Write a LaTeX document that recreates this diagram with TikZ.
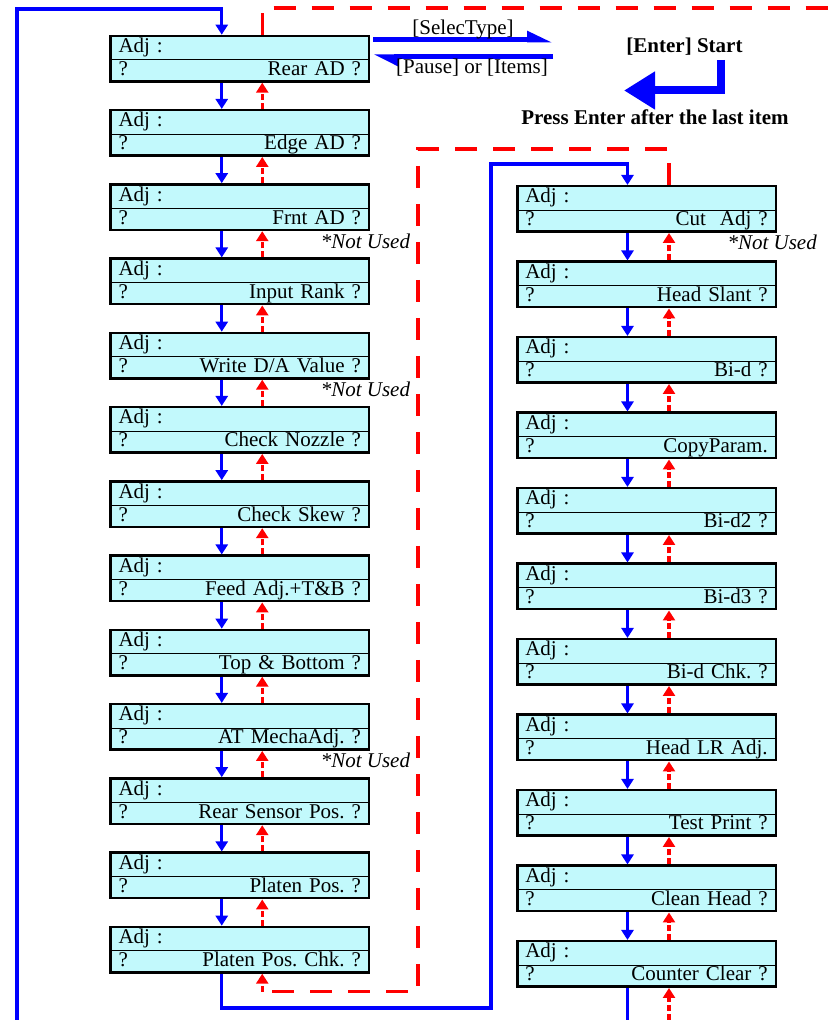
\documentclass[tikz,border=0pt]{standalone}
\usepackage{fontspec}
\setmainfont{Liberation Serif}
\usepackage{tikz}
\usetikzlibrary{arrows.meta,positioning,calc}
\frenchspacing
\definecolor{Lcd}{HTML}{C2F9FC}
\definecolor{Fwd}{HTML}{0000FF}
\definecolor{Back}{HTML}{FF0000}
\newcommand{\adjq}[1]{?\hfill #1\hspace*{4pt}}
\tikzset{
  adjbox/.style={draw=black,fill=Lcd,line width=2.5pt,minimum width=258.5pt,minimum height=45.5pt,text width=242.5pt,inner xsep=8pt,inner ysep=1.75pt,align=left,text height=15pt,text depth=27pt,font=\fontsize{21}{23}\selectfont,
    path picture={\draw[black,line width=1pt] ([yshift=-1.3pt]path picture bounding box.west) -- ([yshift=-1.3pt]path picture bounding box.east);}},
  fwd/.style={-{Triangle[length=10pt,width=12pt]},draw=Fwd,line width=3.2pt},
  back/.style={-{Triangle[length=10pt,width=12pt]},draw=Back,line width=3.2pt,dash pattern=on 6pt off 3pt},
  fwdloop/.style={draw=Fwd,line width=3.2pt},
  backloop/.style={draw=Back,line width=3.2pt,dash pattern=on 22pt off 16pt},
  keyflow/.style={draw=Fwd,line width=5pt},
  keytext/.style={font=\fontsize{21}{23}\selectfont,inner sep=0pt},
  hint/.style={font=\fontsize{21}{23}\selectfont\bfseries,inner sep=0pt},
  note/.style={font=\fontsize{21}{23}\selectfont\itshape,inner sep=0pt}
}
\begin{document}
\begin{tikzpicture}[x=1pt,y=1pt,node distance=26.25pt]
      \useasboundingbox (0,0) rectangle (838,1020);
      \node[adjbox] (L1) at (239.75,961.3) {Adj :\\\adjq{Rear AD ?}};
      \node[adjbox,below=of L1] (L2) {Adj :\\\adjq{Edge AD ?}};
      \node[adjbox,below=of L2] (L3) {Adj :\\\adjq{Frnt AD ?}};
      \node[adjbox,below=of L3] (L4) {Adj :\\\adjq{Input Rank ?}};
      \node[adjbox,below=of L4] (L5) {Adj :\\\adjq{Write D/A Value ?}};
      \node[adjbox,below=of L5] (L6) {Adj :\\\adjq{Check Nozzle ?}};
      \node[adjbox,below=of L6] (L7) {Adj :\\\adjq{Check Skew ?}};
      \node[adjbox,below=of L7] (L8) {Adj :\\\adjq{Feed Adj.+T\&B ?}};
      \node[adjbox,below=of L8] (L9) {Adj :\\\adjq{Top \& Bottom ?}};
      \node[adjbox,below=of L9] (L10) {Adj :\\\adjq{AT MechaAdj. ?}};
      \node[adjbox,below=of L10] (L11) {Adj :\\\adjq{Rear Sensor Pos. ?}};
      \node[adjbox,below=of L11] (L12) {Adj :\\\adjq{Platen Pos. ?}};
      \node[adjbox,below=of L12] (L13) {Adj :\\\adjq{Platen Pos. Chk. ?}};
      \node[adjbox] (R1) at (646.5,811) {Adj :\\\adjq{Cut~ Adj ?}};
      \node[adjbox,below=27.5pt of R1] (R2) {Adj :\\\adjq{Head Slant ?}};
      \node[adjbox,below=27.5pt of R2] (R3) {Adj :\\\adjq{Bi-d ?}};
      \node[adjbox,below=27.5pt of R3] (R4) {Adj :\\\adjq{CopyParam.}};
      \node[adjbox,below=27.5pt of R4] (R5) {Adj :\\\adjq{Bi-d2 ?}};
      \node[adjbox,below=27.5pt of R5] (R6) {Adj :\\\adjq{Bi-d3 ?}};
      \node[adjbox,below=27.5pt of R6] (R7) {Adj :\\\adjq{Bi-d Chk. ?}};
      \node[adjbox,below=27.5pt of R7] (R8) {Adj :\\\adjq{Head LR Adj.}};
      \node[adjbox,below=27.5pt of R8] (R9) {Adj :\\\adjq{Test Print ?}};
      \node[adjbox,below=27.5pt of R9] (R10) {Adj :\\\adjq{Clean Head ?}};
      \node[adjbox,below=27.5pt of R10] (R11) {Adj :\\\adjq{Counter Clear ?}};
      \foreach \i [count=\j from 2] in {1,...,12}{
        \draw[fwd] ([xshift=-18pt]L\i.south) -- ([xshift=-18pt]L\j.north);
        \draw[back] ([xshift=22.5pt]L\j.north) -- ([xshift=22.5pt]L\i.south);
      }
      \foreach \i [count=\j from 2] in {1,...,10}{
        \draw[fwd] ([xshift=-19pt]R\i.south) -- ([xshift=-19pt]R\j.north);
        \draw[back] ([xshift=22.5pt]R\j.north) -- ([xshift=22.5pt]R\i.south);
      }
      \node[note,anchor=base east] (nu3) at ([shift={(40pt,-17pt)}]L3.south east) {*Not Used};
      \node[note,anchor=base east] (nu5) at ([shift={(40pt,-17pt)}]L5.south east) {*Not Used};
      \node[note,anchor=base east] (nu10) at ([shift={(40pt,-17pt)}]L10.south east) {*Not Used};
      \node[note,anchor=base east] (nuR1) at ([shift={(40pt,-17pt)}]R1.south east) {*Not Used};
      \coordinate (fwdin) at (17,0);
      \coordinate (backout) at (838,1012);
      \coordinate (fwdmid) at (491,12);
      \coordinate (backmid) at (418,871);
      \coordinate (backcorner) at (262.25,28.3);
      \coordinate (fwdout) at (627.5,0);
      \coordinate (backin) at (669,0);
      \draw[fwdloop,-{Triangle[length=10pt,width=12pt]}] (fwdin) |- ([shift={(-18pt,25.7pt)}]L1.north) -- ([xshift=-18pt]L1.north);
      \draw[backloop] ([xshift=22.5pt]L1.north) |- (backout);
      \draw[fwdloop,-{Triangle[length=10pt,width=12pt]}] ([xshift=-18pt]L13.south) |- (fwdmid) |- ([shift={(-19pt,21pt)}]R1.north) -- ([xshift=-19pt]R1.north);
      \draw[backloop] ([xshift=22.5pt]R1.north) |- (backmid) |- (backcorner);
      \draw[back] (backcorner) -- ([xshift=22.5pt]L13.south);
      \draw[fwdloop] ([xshift=-19pt]R11.south) -- (fwdout);
      \draw[back] (backin) -- ([xshift=22.5pt]R11.south);
      \coordinate (selend) at (553,980);
      \coordinate (pauseend) at (553,963);
      \draw[keyflow,-{Triangle[harpoon,length=20pt,width=17pt]}] ([shift={(3pt,18.7pt)}]L1.east) -- (selend);
      \draw[keyflow,-{Triangle[harpoon,length=20pt,width=18pt]}] (pauseend) -- ([shift={(3pt,1.7pt)}]L1.east);
      \node[keytext,anchor=base] (selkey) at (463,985.5) {[SelecType]};
      \node[keytext,anchor=base] (pausekey) at (472,946) {[Pause] or [Items]};
      \coordinate (enterup) at (721,960);
      \coordinate (entertip) at (624,929.5);
      \draw[draw=Fwd,line width=8pt,-{Triangle[length=31pt,width=36pt]}] (enterup) |- (entertip);
      \node[hint,anchor=base] (enterkey) at (684.5,967) {[Enter] Start};
      \node[hint,anchor=base] (presskey) at (655,895) {Press Enter after the last item};
    \end{tikzpicture}
\end{document}
